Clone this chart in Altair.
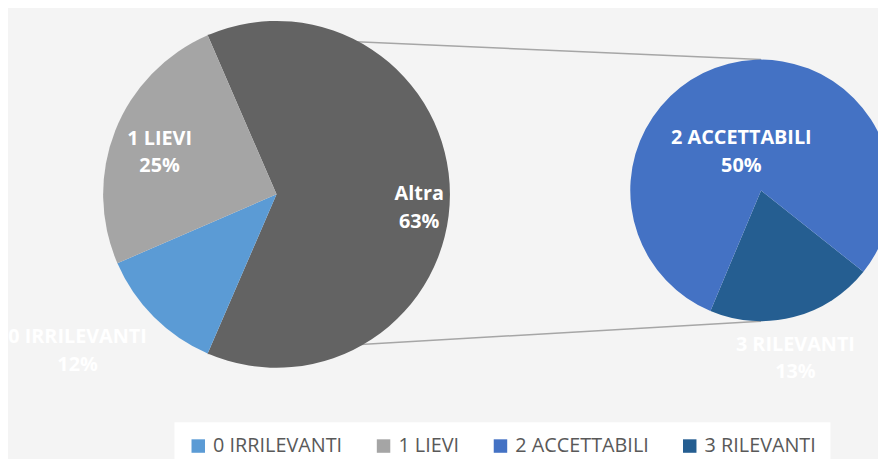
import math
import pandas as pd
import altair as alt

# ---- data ----
left_cats = ["Altra", "0 IRRILEVANTI", "1 LIEVI"]
left_vals = [63, 12, 25]
right_cats = ["3 RILEVANTI", "2 ACCETTABILI"]
right_vals = [13, 50]
legend_cats = ["0 IRRILEVANTI", "1 LIEVI", "2 ACCETTABILI", "3 RILEVANTI"]
legend_colors = ["#5B9BD5", "#A5A5A5", "#4472C4", "#255E91"]
other_color = "#636363"

# ---- layout (style only) ----
W, H = 878, 451
LCX, LCY, LR = 271, 186, 175
RCX, RCY, RR = 760, 182, 132
FONT = "Open Sans"

left = pd.DataFrame({"cat": left_cats, "v": left_vals, "ord": list(range(len(left_cats)))})
left["lab"] = [f"{c}\n{v}%" for c, v in zip(left_cats, left_vals)]
right = pd.DataFrame({"cat": right_cats, "v": right_vals, "ord": list(range(len(right_cats)))})
right["lab"] = [f"{c}\n{v}%" for c, v in zip(right_cats, right_vals)]

left_total = sum(left_vals)
right_total = sum(right_vals)
other_share = left_vals[0] / left_total
ls = math.radians(90 - other_share * 360 / 2)   # "Altra" centred at 3 o'clock
rs = math.radians(128.5)
TWO_PI = 2 * math.pi

lscale = alt.Scale(domain=[0, left_total], range=[ls, ls + TWO_PI])
rscale = alt.Scale(domain=[0, right_total], range=[rs, rs + TWO_PI])

color_scale = alt.Scale(domain=legend_cats + ["Altra"], range=legend_colors + [other_color])
legend = alt.Legend(
    orient="none", legendX=168, legendY=416, direction="horizontal", title=None,
    values=legend_cats, symbolType="square", symbolSize=185, symbolStrokeWidth=0,
    labelFont=FONT, labelFontSize=20, labelColor="#595959", labelOffset=5,
    columnPadding=31, fillColor="white", padding=14, symbolOpacity=1,
)

def pie(df, scale, cx, cy, r):
    return alt.Chart(df).mark_arc(outerRadius=r).encode(
        theta=alt.Theta("v:Q", stack=True, scale=scale),
        color=alt.Color("cat:N", scale=color_scale, legend=legend),
        order=alt.Order("ord:Q"),
        x=alt.value(cx), y=alt.value(cy),
    )

def label(df, scale, cx, cy, cat, radius, dx=0, dy=0):
    return alt.Chart(df).transform_stack(
        stack="v", groupby=[], as_=["s0", "s1"], sort=[alt.SortField("ord", order="ascending")]
    ).transform_calculate(
        mid="(datum.s0 + datum.s1) / 2"
    ).transform_filter(
        alt.datum.cat == cat
    ).mark_text(
        font=FONT, fontSize=20, fontWeight="bold", color="white", lineBreak="\n",
        lineHeight=28, align="center", baseline="middle", dx=dx, dy=dy,
    ).encode(
        theta=alt.Theta("mid:Q", stack=None, scale=scale),
        radius=alt.value(radius),
        x=alt.value(cx), y=alt.value(cy),
        text="lab:N",
    )

# connector lines from the "Altra" slice edges to the second pie
a1 = ls + TWO_PI * other_share
top_pt = (LCX + LR * math.sin(ls), LCY - LR * math.cos(ls))
bot_pt = (LCX + LR * math.sin(a1), LCY - LR * math.cos(a1))
dummy = pd.DataFrame({"k": [0]})

def connector(p, q):
    return alt.Chart(dummy).mark_rule(color="#a6a6a6", strokeWidth=1.5).encode(
        x=alt.value(p[0]), y=alt.value(p[1]), x2=alt.value(q[0]), y2=alt.value(q[1])
    )

layers = [
    connector(top_pt, (RCX, RCY - RR)),
    connector(bot_pt, (RCX, RCY + RR)),
    pie(left, lscale, LCX, LCY, LR),
    pie(right, rscale, RCX, RCY, RR),
    label(left, lscale, LCX, LCY, "1 LIEVI", 128, 1, -9),
    label(left, lscale, LCX, LCY, "Altra", 138, 6, 0),
    label(left, lscale, LCX, LCY, "0 IRRILEVANTI", 250, -24, -33),
    label(right, rscale, RCX, RCY, "2 ACCETTABILI", 40, -10, -14),
    label(right, rscale, RCX, RCY, "3 RILEVANTI", 172, -8, -11),
]

chart = alt.layer(*layers).resolve_scale(theta="independent").properties(
    width=W, height=H, autosize=alt.AutoSizeParams(type="none"), padding=0,
    background="#f4f4f4",
).configure_view(stroke=None)

chart.save("out.html", embed_options={"renderer": "svg", "actions": False})
